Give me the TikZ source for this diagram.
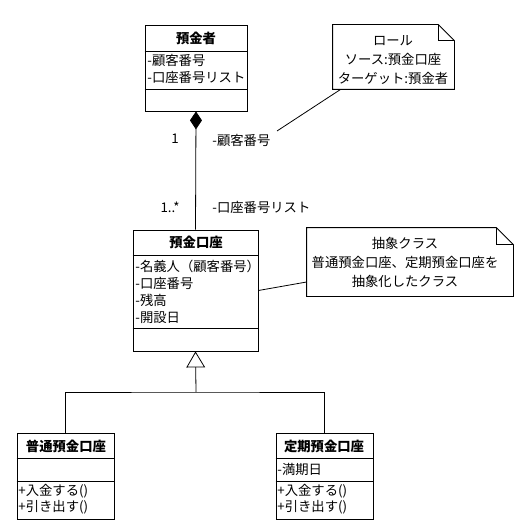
\documentclass[tikz,border=0pt]{standalone}
\usepackage{fontspec}
\setmainfont{Noto Sans CJK JP}
\usetikzlibrary{fit,arrows.meta}

\tikzset{
  classbox/.style={draw, inner sep=0pt},
  notebox/.style={inner sep=0pt},
  title/.style={font=\bfseries\fontsize{10}{12}\selectfont},
  member/.style={anchor=west, inner sep=0pt, font=\fontsize{10}{12}\selectfont},
  notetext/.style={align=center, inner sep=0pt, font=\fontsize{10}{14.25}\selectfont},
}

\begin{document}
\begin{tikzpicture}[x=0.75pt,y=-0.75pt,line width=0.6pt]
    \useasboundingbox (0,0) rectangle (524,531);

    % Class boxes
    \node[classbox, fit={(145,25) (247,111)}] (depositor) {};
    \node[classbox, fit={(133,230) (258,351)}] (account) {};
    \node[classbox, fit={(17,433) (114,519)}] (ordinary) {};
    \node[classbox, fit={(276,433) (373,519)}] (fixed) {};

    % Compartments
    \draw (depositor.west |- 0,51) -- (depositor.east |- 0,51);
    \draw (depositor.west |- 0,89) -- (depositor.east |- 0,89);
    \draw (account.west |- 0,255) -- (account.east |- 0,255);
    \draw (account.west |- 0,328) -- (account.east |- 0,328);
    \draw (ordinary.west |- 0,458) -- (ordinary.east |- 0,458);
    \draw (ordinary.west |- 0,481) -- (ordinary.east |- 0,481);
    \draw (fixed.west |- 0,458) -- (fixed.east |- 0,458);
    \draw (fixed.west |- 0,481) -- (fixed.east |- 0,481);

    % Class names and members
    \node[title] (depositor-name) at (196,38) {預金者};
    \node[member] (depositor-a1) at (147,60) {-顧客番号};
    \node[member] (depositor-a2) at (147,77) {-口座番号リスト};

    \node[title] (account-name) at (196,242) {預金口座};
    \node[member] (account-a1) at (135,266) {-名義人（顧客番号）};
    \node[member] (account-a2) at (135,283) {-口座番号};
    \node[member] (account-a3) at (135,300) {-残高};
    \node[member] (account-a4) at (135,318) {-開設日};

    \node[title] (ordinary-name) at (66,446) {普通預金口座};
    \node[member] (ordinary-o1) at (18,491) {+入金する()};
    \node[member] (ordinary-o2) at (18,507) {+引き出す()};

    \node[title] (fixed-name) at (324,446) {定期預金口座};
    \node[member] (fixed-a1) at (277,469) {-満期日};
    \node[member] (fixed-o1) at (277,491) {+入金する()};
    \node[member] (fixed-o2) at (277,507) {+引き出す()};

    % Association
    \draw[{Diamond[length=13.5pt,width=9pt]}-] (depositor.south) -- (account.north);
    \node[member, anchor=center] (mult-one) at (175,139) {1};
    \node[member, anchor=center] (mult-many) at (170,207) {1..*};
    \node[member] (role-customer) at (212,140) {-顧客番号};
    \node[member] (role-accounts) at (212,207) {-口座番号リスト};

    % Generalization
    \coordinate (fork) at (196,392);
    \draw[-{Triangle[open,length=12pt,width=14pt]}] (fork) -- (account.south);
    \draw (ordinary.north) |- (fork) -| (fixed.north);

    % Notes
    \node[notebox, fit={(333,25) (454,89)}] (role) {};
    \draw (role.north west) -- ([xshift=-12pt]role.north east) -- ([yshift=-12pt]role.north east)
        -- (role.south east) -- (role.south west) -- cycle;
    \draw ([xshift=-12pt]role.north east) |- ([yshift=-12pt]role.north east);
    \node[notetext] (role-text) at (393,60) {ロール\\ソース:預金口座\\ターゲット:預金者};
    \coordinate (role-end) at (277,131);
    \draw ([xshift=6pt]role.south west) -- (role-end);

    \node[notebox, fit={(307,228) (513,296)}] (abstract) {};
    \draw (abstract.north west) -- ([xshift=-12.75pt]abstract.north east) -- ([yshift=-12.75pt]abstract.north east)
        -- (abstract.south east) -- (abstract.south west) -- cycle;
    \draw ([xshift=-12.75pt]abstract.north east) |- ([yshift=-12.75pt]abstract.north east);
    \node[notetext] (abstract-text) at (405,262) {抽象クラス\\普通預金口座、定期預金口座を\\抽象化したクラス};
    \draw (account.east) -- (abstract.west |- 0,282);

\end{tikzpicture}
\end{document}
